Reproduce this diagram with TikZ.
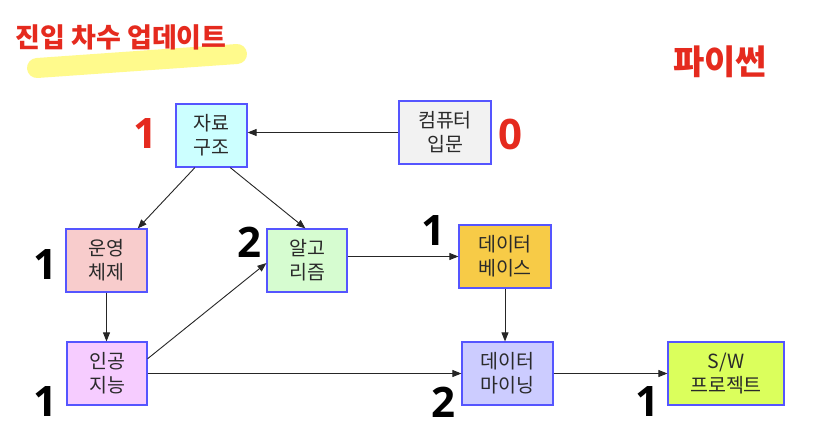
\documentclass[tikz,border=0pt]{standalone}
\usepackage{fontspec}
\usetikzlibrary{arrows.meta,calc}
\newfontfamily\kr{Noto Sans CJK KR}
\newfontfamily\numf{Open Sans}
\definecolor{titlered}{HTML}{E52A1E}
\definecolor{hilite}{HTML}{FFFA8C}
\definecolor{boxline}{HTML}{5555FF}
\definecolor{txt}{HTML}{2A2A2A}
\definecolor{cJR}{HTML}{CCFFFF}
\definecolor{cCS}{HTML}{F2F2F2}
\definecolor{cOS}{HTML}{F8CCCC}
\definecolor{cAL}{HTML}{D6FCD0}
\definecolor{cDB}{HTML}{F7CB47}
\definecolor{cAI}{HTML}{F6CCFF}
\definecolor{cDM}{HTML}{CCCCFF}
\definecolor{cSW}{HTML}{DBFF5C}
\tikzset{
  subj/.style={draw=boxline, line width=1.2pt, text=txt, align=center, inner sep=0pt,
    minimum height=63pt, font=\kr\fontsize{19.5}{24}\selectfont},
  arr/.style={draw=black!85, line width=0.9pt, -{Triangle[length=9pt,width=7pt]}},
  bignum/.style={inner sep=0pt, font=\numf\bfseries\fontsize{42}{42}\selectfont},
}
\begin{document}
\begin{tikzpicture}[x=1pt,y=-1pt]
\useasboundingbox (0,0) rectangle (826,436);
\fill[white] (0,0) rectangle (826,436);
% title with highlight
\draw[hilite, line width=20pt, line cap=round] (37,68) -- (237,54);
\node[text=titlered, inner sep=0pt, font=\kr\bfseries\fontsize{27}{27}\selectfont] (title) at (121,37) {진입 차수 업데이트};
\node[text=titlered, inner sep=0pt, font=\kr\bfseries\fontsize{34}{34}\selectfont] (py) at (720,62) {파이썬};
% boxes
\node[subj, fill=cJR, minimum width=71pt] (jr) at (211.5,135.5) {자료\\구조};
\node[subj, fill=cCS, minimum width=92pt] (cs) at (445,132.5) {컴퓨터\\입문};
\node[subj, fill=cOS, minimum width=81pt] (os) at (106.5,260.5) {운영\\체제};
\node[subj, fill=cAL, minimum width=80pt] (al) at (307,260.5) {알고\\리즘};
\node[subj, fill=cDB, minimum width=92pt] (db) at (505,256.5) {데이터\\베이스};
\node[subj, fill=cAI, minimum width=80pt] (ai) at (107,373.5) {인공\\지능};
\node[subj, fill=cDM, minimum width=91pt] (dm) at (507.5,373.5) {데이터\\마이닝};
\node[subj, fill=cSW, minimum width=116pt] (sw) at (726,373.5) {S/W\\프로젝트};
% numbers
\node[bignum, text=titlered] (n1) at (145,134) {1};
\node[bignum, text=titlered] (n0) at (510,134) {0};
\node[bignum] (n2) at (45.5,265) {1};
\node[bignum] (n3) at (249.5,242.5) {2};
\node[bignum] (n4) at (433,231) {1};
\node[bignum] (n5) at (45.5,402) {1};
\node[bignum] (n6) at (443,402) {2};
\node[bignum] (n7) at (647.5,402) {1};
% arrows
\draw[arr] (cs.west) -- (cs.west -| jr.east);
\draw[arr] ($(jr.south west)!0.27!(jr.south east)$) -- ($(os.north west)!0.88!(os.north east)$);
\draw[arr] ($(jr.south west)!0.76!(jr.south east)$) -- ($(al.north west)!0.48!(al.north east)$);
\draw[arr] (os.south) -- (os.south |- ai.north);
\draw[arr] ($(ai.north east)!0.27!(ai.south east)$) -- ($(al.north west)!0.54!(al.south west)$);
\draw[arr] (ai.east) -- (dm.west);
\draw[arr] (al.east |- db.west) -- (db.west);
\draw[arr] (db.south) -- (db.south |- dm.north);
\draw[arr] (dm.east) -- (sw.west);
\end{tikzpicture}
\end{document}
